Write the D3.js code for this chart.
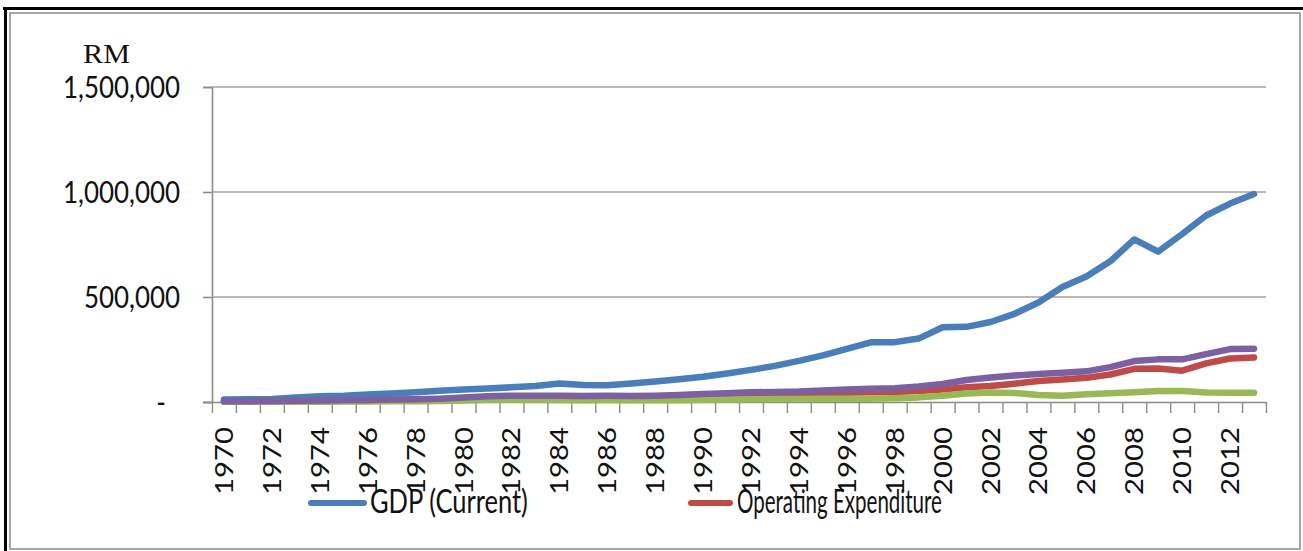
<!DOCTYPE html>
<html>
<head>
<meta charset="utf-8">
<script src="https://cdn.jsdelivr.net/npm/d3@7/dist/d3.min.js"></script>
<style>
  html, body { margin: 0; padding: 0; background: #fff; }
  svg { display: block; }
</style>
</head>
<body>
<svg id="chart" width="1303" height="551"></svg>
<script>
// ---------------- DATA (RM million) ----------------
const years = d3.range(1970, 2014);
const seriesNames = ["GDP (Current)", "Operating Expenditure", "Development Expenditure", "Total Expenditure"];
const gdpCurrent = [12300, 13000, 14200, 22000, 27000, 30000, 36000, 41000, 47000, 53000,
  59000, 64000, 70000, 76000, 88000, 81000, 80000, 88000, 98000, 108000,
  120000, 136000, 153000, 172000, 196000, 222000, 253000, 284000, 285000, 302000,
  356000, 358000, 381000, 420000, 474000, 548000, 598000, 670000, 774000, 716000,
  800000, 888000, 945000, 990000];
const operatingExp = [2200, 3000, 3600, 4000, 5300, 6300, 7400, 9000, 9500, 11000,
  14000, 16000, 18000, 19000, 20500, 21000, 21000, 20500, 22000, 25000,
  27000, 30000, 33000, 34000, 36000, 40000, 44000, 47000, 48000, 52000,
  60000, 70000, 76000, 87000, 100000, 107000, 115000, 131000, 158000, 159000,
  149000, 184000, 207000, 212000];
const developmentExp = [800, 1000, 1400, 1500, 1700, 2200, 2600, 3000, 3500, 5000,
  7000, 11000, 12000, 11000, 9500, 8000, 9000, 8500, 8000, 8000,
  11000, 12000, 13000, 14000, 14000, 15000, 16000, 16000, 18000, 22000,
  30000, 40000, 45000, 43000, 33000, 30000, 37000, 42000, 47000, 52000,
  52000, 45000, 44000, 44000];
const totalExp = [3000, 4000, 5000, 5500, 7000, 8500, 10000, 12000, 13000, 16000,
  21000, 27000, 30000, 30000, 30000, 29000, 30000, 29000, 30000, 33000,
  38000, 42000, 46000, 48000, 50000, 55000, 60000, 63000, 66000, 74000,
  86000, 105000, 117000, 126000, 133000, 139000, 146000, 166000, 195000, 203000,
  203000, 228000, 252000, 254000];
const yTickValues = [0, 500000, 1000000, 1500000];
const yTickLabels = ["-", "500,000", "1,000,000", "1,500,000"];
const xTickLabels = years.filter(y => y % 2 === 0).map(String);
const yUnitLabel = "RM";
const legendItems = ["GDP (Current)", "Operating Expenditure"];

// ---------------- STYLE ----------------
const colors = ["#4A7EBB", "#BE4B48", "#98B954", "#7D60A0"];
const sans = "Lato, 'Open Sans', sans-serif";
const serif = "'Liberation Serif', 'DejaVu Serif', serif";

const svg = d3.select("#chart");
const plot = { left: 212, right: 1266, top: 87, bottom: 402 };

// frame
svg.append("rect").attr("x", 10).attr("y", 13).attr("width", 1290).attr("height", 536)
  .attr("fill", "none").attr("stroke", "#a6a6a6").attr("stroke-width", 2);
svg.append("line").attr("x1", 3).attr("x2", 1303).attr("y1", 8.5).attr("y2", 8.5)
  .attr("stroke", "#000").attr("stroke-width", 3);
svg.append("line").attr("x1", 5.5).attr("x2", 5.5).attr("y1", 7).attr("y2", 551)
  .attr("stroke", "#000").attr("stroke-width", 3);

// scales
const x = d3.scaleBand().domain(years).range([plot.left, plot.right]).paddingInner(0).paddingOuter(0);
const bw = x.bandwidth();
const cx = d => x(d) + bw / 2;
const y = d3.scaleLinear().domain([0, 1500000]).range([plot.bottom, plot.top]);

// gridlines (with left tick marks)
const gAxisY = svg.append("g").attr("transform", `translate(${plot.left},0)`)
  .call(d3.axisLeft(y).tickValues(yTickValues).tickSize(9).tickFormat(""));
gAxisY.select(".domain").attr("stroke", "#8c8c8c").attr("stroke-width", 1.6);
gAxisY.selectAll(".tick line").attr("stroke", "#8c8c8c").attr("stroke-width", 1.6);

svg.append("g").selectAll("line").data(yTickValues.slice(1)).join("line")
  .attr("x1", plot.left).attr("x2", plot.right)
  .attr("y1", d => y(d)).attr("y2", d => y(d))
  .attr("stroke", "#a0a0a0").attr("stroke-width", 1.6);

// x axis with ticks at category boundaries
const boundaries = years.map(d => x(d)).concat([plot.right]);
const xb = d3.scaleLinear().domain([0, 1]).range([0, 1]);
const gAxisX = svg.append("g").attr("transform", `translate(0,${plot.bottom})`)
  .call(d3.axisBottom(xb).tickValues(boundaries).tickSize(11).tickFormat("").tickSizeOuter(0));
gAxisX.select(".domain").attr("d", `M${plot.left - 9},0.5H${plot.right}`)
  .attr("stroke", "#8c8c8c").attr("stroke-width", 1.6);
gAxisX.selectAll(".tick line").attr("stroke", "#8c8c8c").attr("stroke-width", 1.4);

// y tick labels
const yLab = svg.append("g").selectAll("text").data(yTickValues).join("text")
  .text((d, i) => yTickLabels[i])
  .attr("font-family", sans).attr("font-size", 26).attr("fill", "#111")
  .attr("text-anchor", "end");
const refY = yLab.filter((d, i) => i === 3).node().getBBox().width;
const ySx = 117 / refY, ySy = 22 / (0.72 * 26);
yLab.attr("transform", (d, i) => {
  const xx = i === 0 ? 166 : 180;
  return `translate(${xx},${y(d) + 11}) scale(${ySx},${ySy})`;
});

// x tick labels (rotated)
const xLab = svg.append("g").selectAll("text").data(xTickLabels).join("text")
  .text(d => d)
  .attr("font-family", sans).attr("font-size", 25).attr("fill", "#111")
  .attr("text-anchor", "end").attr("dy", "0.36em");
const refX = xLab.node().getBBox().width;
const xAlong = 68 / refX;
xLab.attr("transform", d => `translate(${cx(+d)},427) rotate(-90) scale(${xAlong},1)`);

// unit label
const rm = svg.append("text").text(yUnitLabel)
  .attr("font-family", serif).attr("font-size", 24).attr("fill", "#111");
const rmW = rm.node().getBBox().width;
rm.attr("transform", `translate(83,63) scale(${47 / rmW},${18 / (0.662 * 24)})`);

// lines
const seriesData = [gdpCurrent, operatingExp, developmentExp, totalExp];
const lineGen = d3.line().x((d, i) => cx(years[i])).y(d => y(d));
svg.append("g").selectAll("path").data(seriesData).join("path")
  .attr("d", d => lineGen(d))
  .attr("fill", "none")
  .attr("stroke", (d, i) => colors[i])
  .attr("stroke-width", 6.5)
  .attr("stroke-linejoin", "round")
  .attr("stroke-linecap", "round");

// legend
const legendLayout = [
  { x1: 311, x2: 364, tx: 370, tw: 158 },
  { x1: 691, x2: 730, tx: 737, tw: 205 }
];
const lg = svg.append("g");
legendItems.forEach((name, i) => {
  const L = legendLayout[i];
  lg.append("line").attr("x1", L.x1).attr("x2", L.x2).attr("y1", 503).attr("y2", 503)
    .attr("stroke", colors[i]).attr("stroke-width", 6).attr("stroke-linecap", "round");
  const t = lg.append("text").text(name)
    .attr("font-family", sans).attr("font-size", 26).attr("fill", "#111");
  const w = t.node().getBBox().width;
  t.attr("transform", `translate(${L.tx},513) scale(${L.tw / w},${23 / (0.72 * 26)})`);
});
</script>
</body>
</html>
